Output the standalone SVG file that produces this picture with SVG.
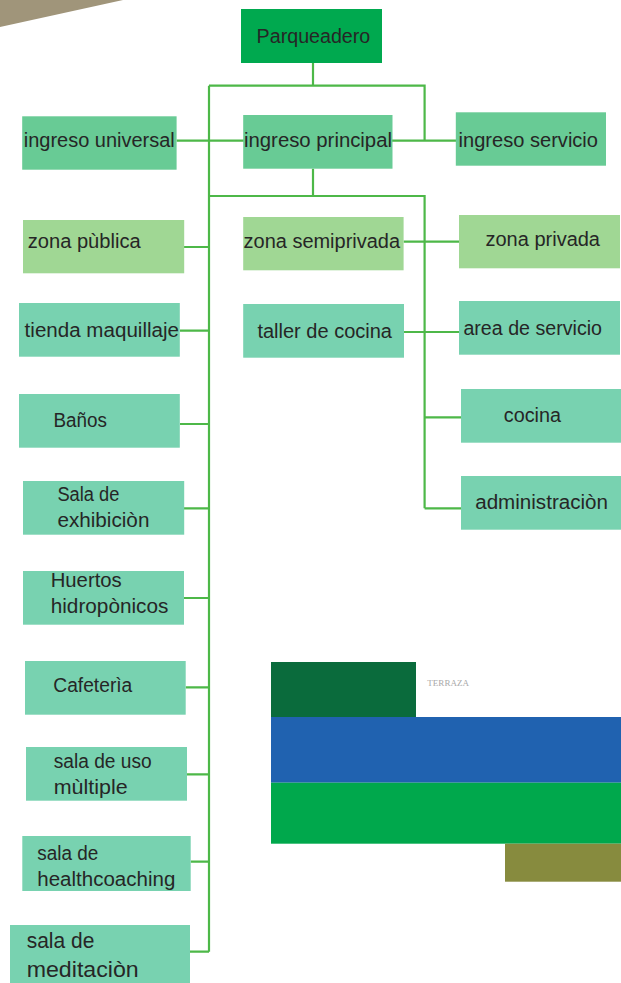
<svg xmlns="http://www.w3.org/2000/svg" width="621" height="983" viewBox="0 0 621 983">
<style>
.t{font-family:"Liberation Sans",Arial,sans-serif;font-size:20px;fill:#262626}
.tb{font-family:"Liberation Sans",Arial,sans-serif;font-size:22px;fill:#262626}
.c{fill:none;stroke:#4db848;stroke-width:2.2}
.n1{fill:#00a94f}
.n2{fill:#68cb95}
.n3{fill:#a0d794}
.n4{fill:#78d2b0}
</style>
<rect width="621" height="983" fill="#ffffff"/>
<polygon points="0,0 123,0 0,27" fill="#a0957a"/>
<g id="connectors">
<path class="c" d="M313,63V85.7M209,85.7H424.6V140.7M209,85.7V951.7M176.6,140.7H456M313,168.7V196M209,196H424.6V508.3"/>
<path class="c" d="M184,247H209M403.6,241.7H459M180,330.7H209M404,332H459M180,424H209M424.6,417.3H461M184,508.3H209M424.6,508.3H461M184,598H209M185.7,687.3H209M187,774.3H209M190.7,861.7H209M190,951.7H209"/>
</g>
<g id="parqueadero"><rect class="n1" x="241" y="9" width="141" height="54"/><text class="t" x="256.6" y="42.5" textLength="113.7" lengthAdjust="spacingAndGlyphs">Parqueadero</text></g>
<g id="ingreso-universal"><rect class="n2" x="22.2" y="116.3" width="154.4" height="53.4"/><text class="t" x="23.8" y="146.5" textLength="151" lengthAdjust="spacingAndGlyphs">ingreso universal</text></g>
<g id="ingreso-principal"><rect class="n2" x="243.2" y="115" width="149.3" height="53.7"/><text class="t" x="244" y="146.5" textLength="148" lengthAdjust="spacingAndGlyphs">ingreso principal</text></g>
<g id="ingreso-servicio"><rect class="n2" x="455.8" y="112.3" width="150.2" height="53.4"/><text class="t" x="458.6" y="146.5" textLength="139.4" lengthAdjust="spacingAndGlyphs">ingreso servicio</text></g>
<g id="zona-publica"><rect class="n3" x="23" y="220" width="161.2" height="53.3"/><text class="t" x="27.7" y="248.3" textLength="113" lengthAdjust="spacingAndGlyphs">zona pùblica</text></g>
<g id="zona-semiprivada"><rect class="n3" x="243.2" y="217" width="160.4" height="53.3"/><text class="t" x="243.6" y="248.3" textLength="156.4" lengthAdjust="spacingAndGlyphs">zona semiprivada</text></g>
<g id="zona-privada"><rect class="n3" x="459" y="215" width="161" height="53.3"/><text class="t" x="485.5" y="246" textLength="114.5" lengthAdjust="spacingAndGlyphs">zona privada</text></g>
<g id="tienda-maquillaje"><rect class="n4" x="19" y="303" width="160.8" height="53.7"/><text class="t" x="24.6" y="337.3" textLength="154.4" lengthAdjust="spacingAndGlyphs">tienda maquillaje</text></g>
<g id="taller-cocina"><rect class="n4" x="243.2" y="304" width="160.8" height="53.7"/><text class="t" x="257.4" y="338.3" textLength="134.6" lengthAdjust="spacingAndGlyphs">taller de cocina</text></g>
<g id="area-servicio"><rect class="n4" x="459" y="301" width="161" height="53.7"/><text class="t" x="463.4" y="335" textLength="138.6" lengthAdjust="spacingAndGlyphs">area de servicio</text></g>
<g id="banos"><rect class="n4" x="19" y="394" width="160.8" height="53.7"/><text class="t" x="53.5" y="426.7" textLength="53.5" lengthAdjust="spacingAndGlyphs">Baños</text></g>
<g id="cocina"><rect class="n4" x="461" y="389" width="160" height="53.7"/><text class="t" x="503.8" y="421.7" textLength="57.2" lengthAdjust="spacingAndGlyphs">cocina</text></g>
<g id="sala-exhibicion"><rect class="n4" x="23" y="481" width="161.2" height="53.7"/><text class="t" x="57.4" y="500.7" textLength="62" lengthAdjust="spacingAndGlyphs">Sala de</text><text class="t" x="57.4" y="526.7" textLength="92" lengthAdjust="spacingAndGlyphs">exhibiciòn</text></g>
<g id="administracion"><rect class="n4" x="461" y="476" width="160" height="53.7"/><text class="t" x="475.2" y="509.3" textLength="132.8" lengthAdjust="spacingAndGlyphs">administraciòn</text></g>
<g id="huertos"><rect class="n4" x="23" y="571" width="161" height="53.7"/><text class="t" x="50.7" y="586.7" textLength="71" lengthAdjust="spacingAndGlyphs">Huertos</text><text class="t" x="50.7" y="612.7" textLength="117.7" lengthAdjust="spacingAndGlyphs">hidropònicos</text></g>
<g id="cafeteria"><rect class="n4" x="25" y="661" width="160.7" height="53.7"/><text class="t" x="53.3" y="692.3" textLength="79" lengthAdjust="spacingAndGlyphs">Cafeterìa</text></g>
<g id="sala-uso-multiple"><rect class="n4" x="26" y="747" width="161" height="53.7"/><text class="t" x="53.7" y="768.3" textLength="98" lengthAdjust="spacingAndGlyphs">sala de uso</text><text class="t" x="53.7" y="794" textLength="74" lengthAdjust="spacingAndGlyphs">mùltiple</text></g>
<g id="sala-healthcoaching"><rect class="n4" x="22.3" y="836" width="168.4" height="55"/><text class="t" x="37.3" y="860" textLength="61" lengthAdjust="spacingAndGlyphs">sala de</text><text class="t" x="37.3" y="886" textLength="138" lengthAdjust="spacingAndGlyphs">healthcoaching</text></g>
<g id="sala-meditacion"><rect class="n4" x="10" y="925" width="180" height="58"/><text class="tb" x="26.7" y="948.3" textLength="67.7" lengthAdjust="spacingAndGlyphs">sala de</text><text class="tb" x="26.7" y="976.7" textLength="112" lengthAdjust="spacingAndGlyphs">meditaciòn</text></g>
<g id="legend">
<rect x="271" y="662" width="145" height="55" fill="#0a6b3c"/>
<text x="427.3" y="686" font-family="'Liberation Serif',serif" font-size="9" fill="#a8a8a8" textLength="41.7" lengthAdjust="spacingAndGlyphs">TERRAZA</text>
<rect x="271" y="717" width="350" height="65.7" fill="#2062b0"/>
<rect x="271" y="782.7" width="350" height="61" fill="#00a84c"/>
<rect x="505" y="843.7" width="116" height="38" fill="#878b3e"/>
</g>
</svg>
